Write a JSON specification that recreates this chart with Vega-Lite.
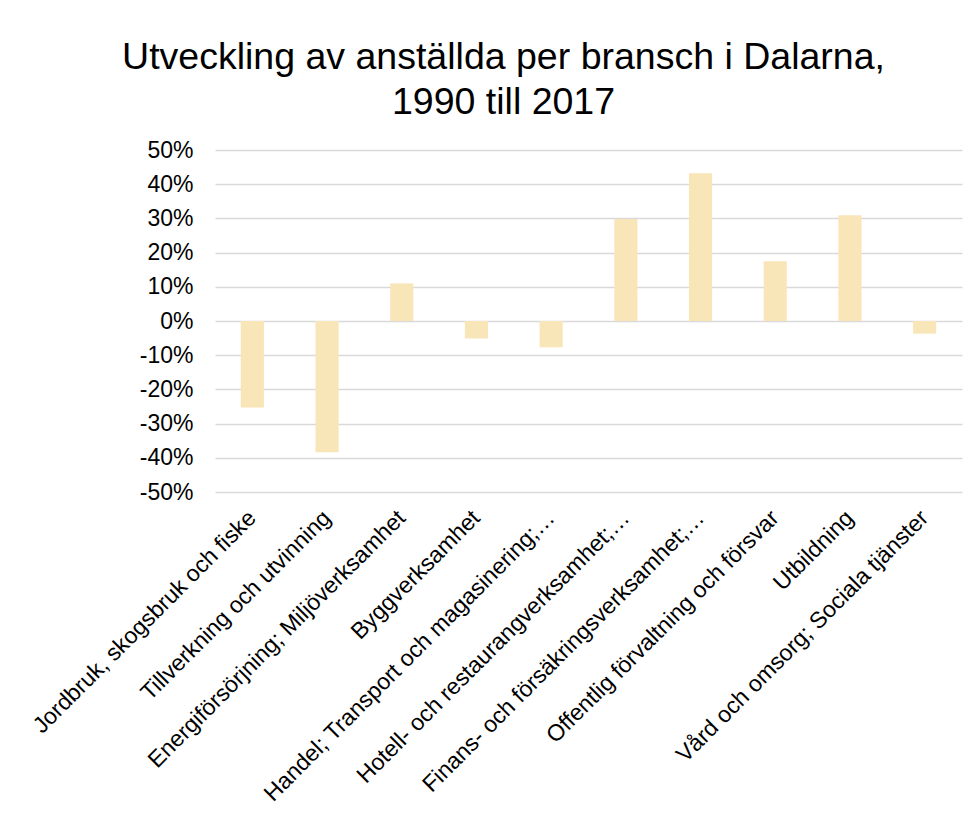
{
  "$schema": "https://vega.github.io/schema/vega-lite/v6.json",
  "autosize": "none",
  "width": 747,
  "height": 342,
  "padding": {"left": 215, "top": 150, "right": 17, "bottom": 322},
  "background": "white",
  "title": {
    "text": ["Utveckling av anställda per bransch i Dalarna,", "1990 till 2017"],
    "font": "Liberation Sans",
    "fontSize": 37.5,
    "fontWeight": "normal",
    "color": "#000000",
    "lineHeight": 45,
    "anchor": "middle",
    "dx": -85,
    "offset": 18
  },
  "data": {
    "values": [
      {"bransch": "Jordbruk, skogsbruk och fiske", "andel": -0.253},
      {"bransch": "Tillverkning och utvinning", "andel": -0.384},
      {"bransch": "Energiförsörjning; Miljöverksamhet", "andel": 0.110},
      {"bransch": "Byggverksamhet", "andel": -0.051},
      {"bransch": "Handel; Transport och magasinering;…", "andel": -0.077},
      {"bransch": "Hotell- och restaurangverksamhet;…", "andel": 0.298},
      {"bransch": "Finans- och försäkringsverksamhet;…", "andel": 0.432},
      {"bransch": "Offentlig förvaltning och försvar", "andel": 0.175},
      {"bransch": "Utbildning", "andel": 0.309},
      {"bransch": "Vård och omsorg; Sociala tjänster", "andel": -0.037}
    ]
  },
  "mark": {"type": "bar", "color": "#F9E6B8"},
  "encoding": {
    "x": {
      "field": "bransch",
      "type": "nominal",
      "sort": null,
      "scale": {"paddingInner": 0.69, "paddingOuter": 0.345},
      "axis": {
        "title": null,
        "labelAngle": -45,
        "labelAlign": "right",
        "labelBaseline": "middle",
        "labelFont": "Liberation Sans",
        "labelFontSize": 23,
        "labelColor": "#000000",
        "labelLimit": 0,
        "labelOverlap": false,
        "labelPadding": 22,
        "ticks": false,
        "domain": false,
        "grid": false
      }
    },
    "y": {
      "field": "andel",
      "type": "quantitative",
      "scale": {"domain": [-0.5, 0.5], "nice": false},
      "axis": {
        "title": null,
        "values": [-0.5, -0.4, -0.3, -0.2, -0.1, 0, 0.1, 0.2, 0.3, 0.4, 0.5],
        "labelExpr": "replace(format(datum.value, '.0%'), '\u2212', '-')",
        "labelFont": "Liberation Sans",
        "labelFontSize": 23,
        "labelColor": "#000000",
        "labelPadding": 22,
        "ticks": false,
        "domain": false,
        "grid": true,
        "gridColor": "#D9D9D9",
        "gridWidth": 1.5
      }
    }
  },
  "config": {"view": {"stroke": null}}
}
